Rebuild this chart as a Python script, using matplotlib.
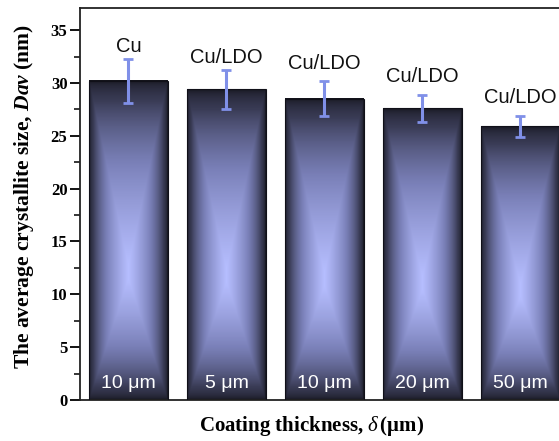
import numpy as np
import matplotlib
matplotlib.use("Agg")
import matplotlib.pyplot as plt
from matplotlib.colors import LinearSegmentedColormap

plt.rcParams["mathtext.fontset"] = "custom"
plt.rcParams["mathtext.rm"] = "Liberation Serif:bold"
plt.rcParams["mathtext.bf"] = "Liberation Serif:bold"
plt.rcParams["mathtext.it"] = "Liberation Serif:italic"
plt.rcParams["mathtext.bfit"] = "Liberation Serif:italic:bold"

# data
samples = ["Cu", "Cu/LDO", "Cu/LDO", "Cu/LDO", "Cu/LDO"]
thickness = ["10 \u03bcm", "5 \u03bcm", "10 \u03bcm", "20 \u03bcm", "50 \u03bcm"]
dav = [30.2, 29.4, 28.5, 27.6, 25.9]
dav_err = [2.1, 1.85, 1.65, 1.3, 1.0]
label_pad = [0.6, 0.6, 1.2, 1.15, 1.2]

x = np.arange(1, len(dav) + 1)

fig = plt.figure(figsize=(5.59, 4.41), dpi=100)
ax = fig.add_axes([0.1431, 0.093, 0.893, 0.889])

cmap = LinearSegmentedColormap.from_list(
    "bargrad", ["#13131a", "#3a3c56", "#7a80b8", "#b6beff"])

bars = ax.bar(x, dav, width=0.8, facecolor="none", edgecolor="#101018",
              linewidth=0.8, zorder=3)

# rectangular gradient inside each bar
u = np.linspace(-1, 1, 160)
t = np.linspace(0, 1, 400)
U, T = np.meshgrid(u, t)
vert = np.clip(np.minimum(T / 0.38, (1 - T) / 0.58), 0, 1)
grad = np.minimum(1 - np.abs(U), vert)
grad = np.clip(grad, 0, 1) ** 0.5
for b in bars:
    x0, w, h = b.get_x(), b.get_width(), b.get_height()
    ax.imshow(grad, cmap=cmap, origin="lower", aspect="auto",
              extent=[x0, x0 + w, 0, h], zorder=2, vmin=0, vmax=1)

ax.errorbar(x, dav, yerr=dav_err, fmt="none", ecolor="#8090e8",
            elinewidth=2.2, capsize=3.3, capthick=2, zorder=4)

for xi, yi, ei, p, s, th in zip(x, dav, dav_err, label_pad, samples, thickness):
    ax.text(xi, yi + ei + p, s, ha="center", va="baseline",
            fontsize=14.5, family="Liberation Sans", color="#111111")
    ax.text(xi, 1.1, th, ha="center", va="baseline",
            fontsize=14, family="Liberation Sans", color="white", zorder=5)

ax.set_xlim(0.505, 5.6)
ax.set_ylim(0, 37.1)
ax.set_yticks(np.arange(0, 36, 5))
ax.set_yticks(np.arange(2.5, 36, 5), minor=True)
ax.set_xticks([])
for lab in ax.get_yticklabels():
    lab.set_family("Liberation Serif")
    lab.set_fontweight("bold")
    lab.set_fontsize(12)
ax.tick_params(axis="y", which="major", length=7, width=1.3, direction="out", pad=2)
ax.tick_params(axis="y", which="minor", length=4, width=1.1, direction="out")
for sp in ax.spines.values():
    sp.set_linewidth(1.3)
    sp.set_color("#222222")

ax.set_ylabel(r"The average crystallite size, $\bfit{Dav}$ (nm)",
              family="Liberation Serif", fontweight="bold", fontsize=15.5)
ax.yaxis.label.set_va("center")
ax.yaxis.set_label_coords(-0.112, 0.518)
ax.set_xlabel(r"Coating thickness, $\it{\delta}\,$($\bf{\mu}$m)",
              family="Liberation Serif", fontweight="bold", fontsize=15, labelpad=8)
ax.xaxis.set_label_coords(0.463, -0.035)
ax.xaxis.label.set_va("top")

fig.savefig("out.png", dpi=100)
